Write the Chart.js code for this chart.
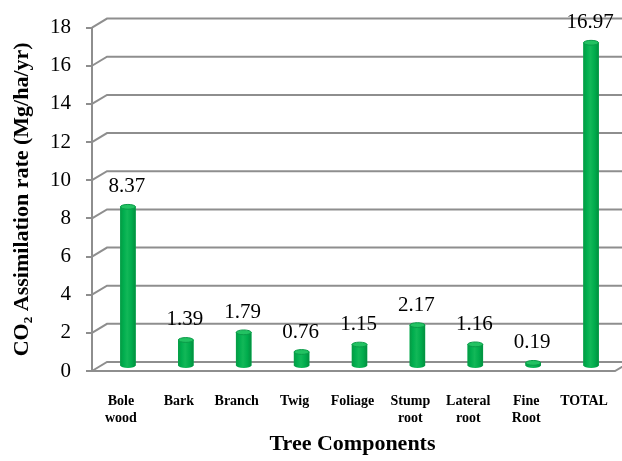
<!DOCTYPE html>
<html>
<head>
<meta charset="utf-8">
<script src="https://cdn.jsdelivr.net/npm/chart.js@4/dist/chart.umd.min.js"></script>
<style>
  html, body { margin: 0; padding: 0; background: #ffffff; }
  #wrap { width: 622px; height: 461px; }
</style>
</head>
<body>
<div id="wrap"><canvas id="c" width="622" height="461"></canvas></div>
<script>
// Tree components (multi-line labels as arrays)
const categories = [["Bole", "wood"], "Bark", "Branch", "Twig", "Foliage", ["Stump", "root"], ["Lateral", "root"], ["Fine", "Root"], "TOTAL"];
// CO2 assimilation rate, Mg/ha/yr
const assimilation = [8.37, 1.39, 1.79, 0.76, 1.15, 2.17, 1.16, 0.19, 16.97];
// Value axis ticks
const yTicks = [0, 2, 4, 6, 8, 10, 12, 14, 16, 18];

const GRID = '#8e8e8e';
const DEPTH_X = 15, DEPTH_Y = -9;          // back wall offset from the front plane
const MID_X = 7, MID_Y = -4.5;             // bars sit half-way into the depth

const serif = '"Liberation Serif", "Times New Roman", serif';

// Perspective walls, gridlines and floor
const wallsPlugin = {
  id: 'walls',
  beforeDatasetsDraw(chart) {
    const { ctx, chartArea: a, scales: { y } } = chart;
    ctx.save();
    ctx.strokeStyle = GRID;
    ctx.lineWidth = 2;
    ctx.lineJoin = 'miter';
    yTicks.forEach(v => {
      const py = y.getPixelForValue(v);
      ctx.beginPath();
      ctx.moveTo(a.left, py);
      ctx.lineTo(a.left + DEPTH_X, py + DEPTH_Y);
      ctx.lineTo(chart.width + 5, py + DEPTH_Y);
      ctx.stroke();
    });
    // front edge of the floor
    const p0 = y.getPixelForValue(0);
    ctx.beginPath();
    ctx.moveTo(a.left, p0);
    ctx.lineTo(a.right + 2, p0);
    ctx.lineTo(a.right + 2 + DEPTH_X, p0 + DEPTH_Y);
    ctx.stroke();
    ctx.restore();
    // shift the bars into the middle of the depth
    ctx.save();
    ctx.translate(MID_X, MID_Y);
  },
  afterDatasetsDraw(chart) {
    const { ctx } = chart;
    const meta = chart.getDatasetMeta(0);
    meta.data.forEach((el, i) => {
      const { x, y, base, width } = el.getProps(['x', 'y', 'base', 'width'], true);
      const half = width / 2, ry = 2.4;
      const left = x - half;
      const g = ctx.createLinearGradient(left, 0, left + width, 0);
      g.addColorStop(0, '#079a44');
      g.addColorStop(0.2, '#00ad4e');
      g.addColorStop(0.45, '#12b858');
      g.addColorStop(0.75, '#00ab4c');
      g.addColorStop(1, '#038f3f');
      ctx.fillStyle = g;
      ctx.beginPath();
      ctx.moveTo(left, y);
      ctx.lineTo(left, base);
      ctx.ellipse(x, base, half, ry, 0, Math.PI, 0, true);
      ctx.lineTo(left + width, y);
      ctx.closePath();
      ctx.fill();
      // top cap
      ctx.beginPath();
      ctx.ellipse(x, y, half, ry, 0, 0, Math.PI * 2);
      ctx.fillStyle = '#22c262';
      ctx.fill();
      ctx.strokeStyle = '#0a9a48';
      ctx.lineWidth = 1;
      ctx.stroke();
      // value label
      ctx.fillStyle = '#000000';
      ctx.font = '21px ' + serif;
      ctx.textAlign = 'center';
      ctx.textBaseline = 'middle';
      ctx.fillText(assimilation[i].toFixed(2), x - 1, y - 20);
    });
    ctx.restore();
  }
};

new Chart(document.getElementById('c'), {
  type: 'bar',
  data: {
    labels: categories,
    datasets: [{
      data: assimilation,
      backgroundColor: '#00ad4e',
      borderWidth: 0,
      barThickness: 15
    }]
  },
  options: {
    responsive: false,
    animation: false,
    devicePixelRatio: 1,
    layout: { padding: { top: 21, right: 9, left: 0, bottom: 0 } },
    plugins: {
      legend: { display: false },
      tooltip: { enabled: false }
    },
    scales: {
      x: {
        grid: { display: false, drawTicks: true, tickLength: 19 },
        border: { display: false },
        ticks: {
          autoSkip: false,
          maxRotation: 0,
          padding: 3,
          color: '#000000',
          font: { family: serif, size: 14, weight: 'bold', lineHeight: 1.2 }
        },
        title: {
          display: true,
          text: 'Tree Components',
          color: '#000000',
          font: { family: serif, size: 22, weight: 'bold', lineHeight: 1.2 },
          padding: { top: 0, bottom: 3 }
        },
        afterFit(scale) { scale.height = 90; }
      },
      y: {
        min: 0,
        max: 18,
        afterBuildTicks(scale) { scale.ticks = yTicks.map(v => ({ value: v })); },
        grid: { drawOnChartArea: false, tickLength: 6, color: GRID, lineWidth: 2 },
        border: { color: GRID, width: 2 },
        ticks: {
          padding: 15,
          color: '#000000',
          font: { family: serif, size: 21 }
        },
        title: {
          display: true,
          text: 'CO\u2082 Assimilation rate (Mg/ha/yr)',
          color: '#000000',
          font: { family: serif, size: 22, weight: 'bold', lineHeight: 1.2 },
          padding: { top: 9, bottom: 0 }
        },
        afterFit(scale) { scale.width = 92; }
      }
    }
  },
  plugins: [wallsPlugin]
});
</script>
</body>
</html>
